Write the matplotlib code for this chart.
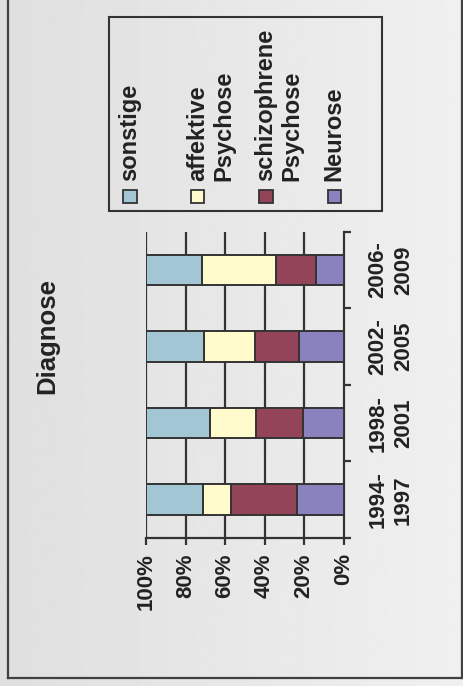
import numpy as np
import matplotlib
matplotlib.use('Agg')
import matplotlib.pyplot as plt
from matplotlib.patches import Rectangle
from matplotlib.lines import Line2D

plt.rcParams['font.family'] = ['Liberation Sans', 'DejaVu Sans']
plt.rcParams['font.weight'] = 'bold'

# data (percent, stacked from 0%)
categories = ['1994-\n1997', '1998-\n2001', '2002-\n2005', '2006-\n2009']
neurose = [23.6, 20.6, 22.6, 14.2]
schizophrene = [33.6, 23.9, 22.1, 20.0]
affektive = [14.1, 23.1, 26.0, 37.3]
sonstige = [28.7, 32.4, 29.3, 28.5]
value_ticks = [0, 20, 40, 60, 80, 100]

series = [
  ('Neurose', neurose, '#8a81bf'),
  ('schizophrene\nPsychose', schizophrene, '#944459'),
  ('affektive\nPsychose', affektive, '#fffbcc'),
  ('sonstige', sonstige, '#a2c6d4'),
]

W, H = 463, 686
dark = '#333333'

def px(x, y):
  return x / W, 1 - y / H

fig = plt.figure(figsize=(W / 100, H / 100), dpi=100)

# background gradient
bg = fig.add_axes([0, 0, 1, 1], zorder=-10)
bg.imshow(np.linspace(0.875, 0.94, 256)[None, :], cmap='gray', vmin=0, vmax=1,
          aspect='auto', extent=[0, 1, 0, 1])
bg.axis('off')

# outer frame
for xs, ys in [((7.5, 7.5), (-5, 678)), ((7.5, 462), (678, 678)), ((462, 462), (-5, 678))]:
  fig.add_artist(Line2D([x / W for x in xs], [1 - y / H for y in ys],
                        transform=fig.transFigure, color='#404040', lw=1.6))

left, top = px(146, 231.7)
right, bottom = px(343.7, 538)
ax = fig.add_axes([left, bottom, right - left, top - bottom])
ax.set_facecolor('none')

ypos = np.arange(len(categories))
start = np.zeros(len(categories))
for name, vals, col in series:
  ax.barh(ypos, vals, left=start, height=0.4, color=col, edgecolor=dark,
          linewidth=1.4, zorder=3)
  start += np.array(vals)

ax.set_xlim(100, 0)
ax.set_ylim(-0.5, len(categories) - 0.5)

for v in value_ticks[1:]:
  ax.axvline(v, color=dark, lw=1.6, zorder=1)

for s in ['top', 'left']:
  ax.spines[s].set_visible(False)
for s in ['bottom', 'right']:
  ax.spines[s].set_color(dark)
  ax.spines[s].set_linewidth(1.6)

ax.set_xticks(value_ticks)
ax.set_xticklabels([f'{v}%' for v in value_ticks], rotation=90, fontsize=16,
                   color='#222222')
ax.tick_params(axis='x', direction='out', length=5, width=1.6, color=dark, pad=6)

ax.yaxis.tick_right()
ax.set_yticks(ypos)
ax.set_yticklabels(categories, rotation=90, fontsize=16, color='#222222',
                   va='center', ha='left', multialignment='center', linespacing=1.3)
ax.set_yticks(np.arange(-0.5, len(categories)), minor=True)
ax.tick_params(axis='y', which='major', length=0, pad=17)
ax.tick_params(axis='y', which='minor', direction='out', length=5, width=1.6, color=dark)

# title
tx, ty = px(47, 336)
fig.text(tx, ty, 'Diagnose', rotation=90, fontsize=18.5, ha='center', va='center',
         color='#222222')

# legend drawn rotated
lx0, ly0 = px(109, 210.7)
lx1, ly1 = px(382, 17.3)
fig.add_artist(Rectangle((lx0, ly0), lx1 - lx0, ly1 - ly0, transform=fig.transFigure,
                         facecolor='none', edgecolor=dark, lw=1.5))
leg_x = [123.3, 191, 259.3, 327.7]
for (name, vals, col), x in zip(reversed(series), leg_x):
  sx, sy = px(x, 203.3)
  fig.add_artist(Rectangle((sx, sy), 13.4 / W, 13.3 / H, transform=fig.transFigure,
                           facecolor=col, edgecolor=dark, lw=1.3))
  nlines = name.count('\n') + 1
  cx = x - 2 + (16 + (nlines - 1) * 27.5) / 2
  tx, ty = px(cx, 181)
  fig.text(tx, ty, name, rotation=90, fontsize=17, ha='center', va='bottom',
           multialignment='left', linespacing=1.17, color='#222222')

fig.savefig('out.png', dpi=100)
